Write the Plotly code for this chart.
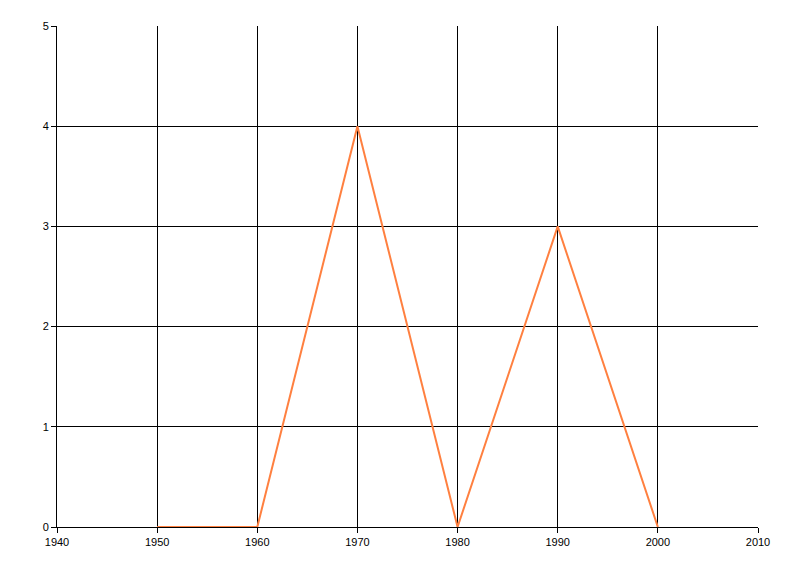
import plotly.graph_objects as go

years = [1950, 1960, 1970, 1980, 1990, 2000]
values = [0, 0, 4, 0, 3, 0]
x_ticks = [1940, 1950, 1960, 1970, 1980, 1990, 2000, 2010]
y_ticks = [0, 1, 2, 3, 4, 5]

fig = go.Figure()
fig.add_trace(go.Scatter(x=years, y=values, mode="lines",
                         line=dict(color="#FF8040", width=2), showlegend=False))

axis_common = dict(showgrid=True, gridcolor="black", gridwidth=1,
                   showline=True, linecolor="black", linewidth=1,
                   ticks="outside", ticklen=5, tickcolor="black",
                   zeroline=False, tickfont=dict(family="Liberation Sans", size=11, color="black"))

fig.update_xaxes(range=[1940, 2010], tickvals=x_ticks, ticktext=[str(t) for t in x_ticks], **axis_common)
fig.update_yaxes(range=[0, 5], tickvals=y_ticks, **axis_common)

fig.update_layout(width=792, height=568, margin=dict(l=49, r=42, t=18, b=49, autoexpand=False),
                  plot_bgcolor="white", paper_bgcolor="white")
fig.write_html("out.html")
